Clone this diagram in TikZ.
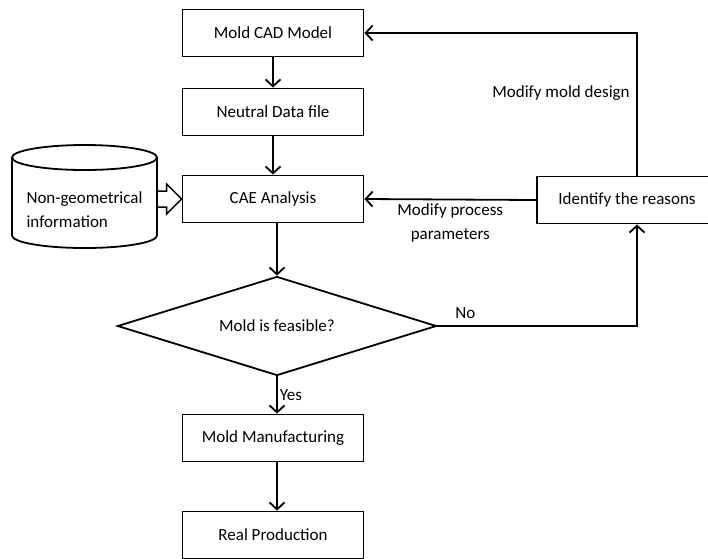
\documentclass[tikz,border=0pt]{standalone}
\usepackage{fontspec}
\setmainfont{Carlito}
\usetikzlibrary{shapes.geometric,arrows.meta,calc}

\tikzset{
  box/.style={draw, line width=1.8pt, minimum width=181pt, minimum height=47pt},
  arr/.style={line width=1.8pt, -{Straight Barb[length=7pt,width=15pt]}},
}

\begin{document}
\begin{tikzpicture}[x=1pt, y=-1pt, font=\fontsize{17}{24}\selectfont]
  \useasboundingbox (0,0) rectangle (708,558);

  \node[box] (cad) at (273,33) {Mold CAD Model};
  \node[box] (neutral) at (273,112) {Neutral Data file};
  \node[box] (cae) at (273,199) {CAE Analysis};
  \node[box] (manuf) at (273,438) {Mold Manufacturing};
  \node[box] (real) at (273,535) {Real Production};
  \node[box, minimum width=180pt] (reason) at (627,200) {Identify the reasons};
  \node[draw, diamond, aspect=3.2, line width=1.8pt, minimum width=319pt,
    minimum height=99pt, inner sep=0pt] (feasible) at (277,326) {Mold is feasible?};

  % database cylinder
  \coordinate (dbtop) at (84.5,157.5);
  \coordinate (dbbot) at (84.5,235.5);
  \draw[line width=1.8pt] (dbtop) ellipse [x radius=72.5, y radius=12.5];
  \draw[line width=1.8pt] ($(dbtop)+(-72.5,0)$) -- ($(dbbot)+(-72.5,0)$)
    arc[start angle=180, end angle=0, x radius=72.5, y radius=12.5]
    -- ($(dbtop)+(72.5,0)$);
  \node[align=left] (info) at (84.5,209.5) {Non-geometrical\\information};

  \coordinate (turn) at (637,33);

  \draw[arr] (cad) -- (neutral);
  \draw[arr] (neutral) -- (cae);
  \draw[arr] (cae.south -| feasible.north) -- (feasible.north);
  \draw[arr] (feasible.south) -- (manuf.north -| feasible.south)
    node[pos=0.5, right, inner sep=2pt] {Yes};
  \draw[arr] (manuf.south -| feasible.south) -- (real.north -| feasible.south);
  \draw[arr] (reason.west) -- (cae.east)
    node[midway, below, align=center] {Modify process\\parameters};
  \draw[arr] (feasible.east) -| (reason.south -| turn)
    node[pos=0.07, above=3pt] {No};
  \draw[arr] (reason.north -| turn) -- (turn) -- (cad.east);
  \node (design) at (561,93) {Modify mold design};

  % hollow arrow from the database
  \draw[line width=1.5pt] ($(cae.west)+(-25,-8)$) -- ++(10,0) -- ++(0,-7)
    -- (cae.west) -- ++(-15,15) -- ++(0,-7) -- ++(-10,0);
\end{tikzpicture}
\end{document}
